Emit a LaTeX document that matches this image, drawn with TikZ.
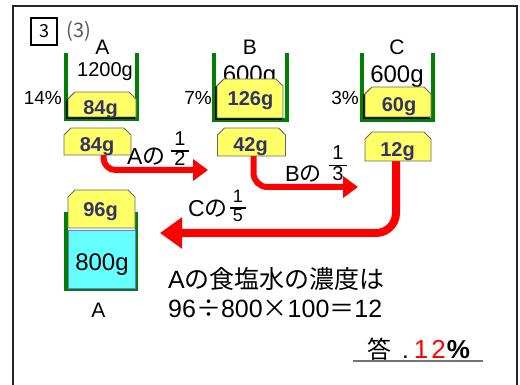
\documentclass[tikz,border=0pt]{standalone}
\usepackage{fontspec}
\setmainfont{Liberation Sans}
\newfontfamily\cjk{Noto Sans CJK JP}
\usetikzlibrary{arrows.meta}
\definecolor{beakergreen}{RGB}{0,128,0}
\definecolor{weightyellow}{RGB}{255,255,102}
\definecolor{weightink}{RGB}{51,51,102}
\definecolor{brine}{RGB}{102,255,255}
\definecolor{flowred}{RGB}{255,0,0}
\newcommand\fsz[1]{\fontsize{#1}{#1}\selectfont}
% stacked fraction with a bar
\newcommand\fracbox[2]{{\setlength\arrayrulewidth{1.5pt}\renewcommand\arraystretch{0.8}%
  \begin{tabular}{@{\kern3pt}c@{\kern3pt}}#1\\\hline #2\end{tabular}}}
% weight outline with cut-off top corners, traced round a node
\newcommand\weightoutline[2][]{%
  \path[weightline,#1] ([yshift=-7pt]#2.north west) -- ([xshift=7pt]#2.north west)
    -- ([xshift=-7pt]#2.north east) -- ([yshift=-7pt]#2.north east)
    -- (#2.south east) -- (#2.south west) -- cycle;}
\tikzset{
  slot/.style={inner sep=0pt, outer sep=0pt},
  weightline/.style={draw=black!60, line width=0.8pt, fill=weightyellow},
  weightshadow/.style={draw=black, fill=black, line width=0.8pt,
    transform canvas={xshift=-1.4pt, yshift=-1.4pt}},
  wtext/.style={anchor=base, text=weightink, font=\fsz{20}\bfseries, inner sep=0pt},
  wall/.style={draw=beakergreen, line width=3.8pt},
  plain/.style={anchor=base, inner sep=0pt},
  fraction/.style={inner sep=0pt, font=\fsz{#1}},
  flow/.style={draw=flowred, line width=6pt, rounded corners=12pt,
    -{Triangle[length=15pt,width=21pt]}},
  bigflow/.style={draw=flowred, line width=8pt, rounded corners=20pt,
    -{Triangle[length=22pt,width=30pt]}},
}
\begin{document}
\begin{tikzpicture}[x=1pt,y=-1pt]
\useasboundingbox (0,0) rectangle (520,385);
\fill[white] (0,0) rectangle (520,385);
% frame, open at the bottom
\draw[line width=2pt, black!85] (13,385) -- (13,6) -- (517,6) -- (517,385);

% heading
\node[draw, line width=1.2pt, minimum width=26pt, minimum height=27pt, inner sep=0pt] (num) at (44,31.5) {\fsz{18}\cjk 3};
\node[inner sep=0pt, text=black!65] (part) at (79,31) {\fsz{20}\cjk (3)};

% free ends of the transfer arrows
\coordinate (toB) at (208,170);
\coordinate (toC) at (358,187);
\coordinate (toA) at (160,233);

% beakers
\draw[wall] (66,53) -- (66,119) -- (137,119) -- (137,53);
\draw[wall] (214,53) -- (214,120) -- (287,120) -- (287,53);
\draw[wall] (362,53) -- (362,120) -- (433,120) -- (433,53);

% beaker names and contents
\node[plain, font=\fsz{21}] (nA) at (102.5,55) {A};
\node[plain, font=\fsz{21}] (nB) at (250,55) {B};
\node[plain, font=\fsz{21}] (nC) at (397,55) {C};
\node[plain, font=\fsz{20}] (mA) at (105,77) {1200g};
\node[plain, font=\fsz{24}] (mB) at (249.5,83) {600g};
\node[plain, font=\fsz{24}] (mC) at (397,83) {600g};
\node[plain, font=\fsz{19}, anchor=base east] (pA) at (62,105) {14\%};
\node[plain, font=\fsz{19}, anchor=base east] (pB) at (212,105) {7\%};
\node[plain, font=\fsz{19}, anchor=base east] (pC) at (359,105) {3\%};

% salt inside each beaker
\node[slot, minimum width=68pt, minimum height=25pt] (wA) at (102,104.5) {};
\node[slot, minimum width=66pt, minimum height=39pt] (wB) at (250,98.5) {};
\node[slot, minimum width=66pt, minimum height=30pt] (wC) at (398,102) {};
\weightoutline[weightshadow]{wA}\weightoutline{wA}
\weightoutline[weightshadow]{wB}\weightoutline{wB}
\weightoutline[weightshadow]{wC}\weightoutline{wC}
\node[wtext] (wAt) at (100.5,115) {84g};
\node[wtext] (wBt) at (250.5,106) {126g};
\node[wtext] (wCt) at (399,112) {60g};

% salt taken out of each beaker, and where it goes
\node[slot, minimum width=67pt, minimum height=27pt] (uA) at (97.5,141.5) {};
\node[slot, minimum width=68pt, minimum height=28pt] (uB) at (251.5,142) {};
\node[slot, minimum width=66pt, minimum height=29pt] (uC) at (398,146.5) {};
\draw[flow] ([xshift=6pt]uA.south) |- (toB);
\draw[flow, rounded corners=14pt] ([xshift=2pt]uB.south) |- (toC);
\draw[bigflow] ([xshift=-2pt]uC.south) |- (toA);
\weightoutline{uA}\weightoutline{uB}\weightoutline{uC}
\node[wtext] (uAt) at (97,152) {84g};
\node[wtext] (uBt) at (250.5,152) {42g};
\node[wtext] (uCt) at (397.5,157) {12g};

% arrow labels
\node[plain, anchor=base west, font=\fsz{23}] (lA) at (127,165) {A{\cjk の}};
\node[fraction=20] (fA) at (180,151) {\fracbox{1}{2}};
\node[plain, anchor=base west, font=\fsz{22}] (lB) at (285,182) {B{\cjk の}};
\node[fraction=20] (fB) at (338,165.5) {\fracbox{1}{3}};
\node[plain, anchor=base west, font=\fsz{23}] (lC) at (188,217) {C{\cjk の}};
\node[fraction=18] (fC) at (238,208) {\fracbox{1}{5}};

% mixed solution in A
\draw[wall] (66,212) -- (66,289) -- (136.5,289) -- (136.5,212);
\node[fill=brine, draw=blue!55, line width=0.6pt, minimum width=67pt, minimum height=58pt, inner sep=0pt] (sol) at (101.5,259) {};
\node[slot, minimum width=67pt, minimum height=38pt] (w96) at (101.5,209) {};
\weightoutline{w96}
\node[wtext] (w96t) at (100.5,217) {96g};
\node[plain, font=\fsz{24}] (solt) at (102,270) {800g};
\node[plain, font=\fsz{21}] (nA2) at (98.5,317) {A};

% working
\node[plain, anchor=base west, font=\fsz{25}] (line1) at (168,288) {A{\cjk の食塩水の濃度は}};
\node[plain, anchor=base west, font=\fsz{25}] (line2) at (168,317) {96{\cjk ÷}800{\cjk ×}100{\cjk ＝}12};

% answer
\node[plain, anchor=base west, font=\fsz{24}] (ans) at (367,358) {{\cjk 答}\hspace{11pt}.\hspace{5pt}{\fsz{26}\textcolor{red}{1\hspace{3pt}2}\hspace{1pt}\textbf{\%}}};
\draw[line width=1.8pt, black!55] (353,361) -- (483,361);
\end{tikzpicture}
\end{document}
